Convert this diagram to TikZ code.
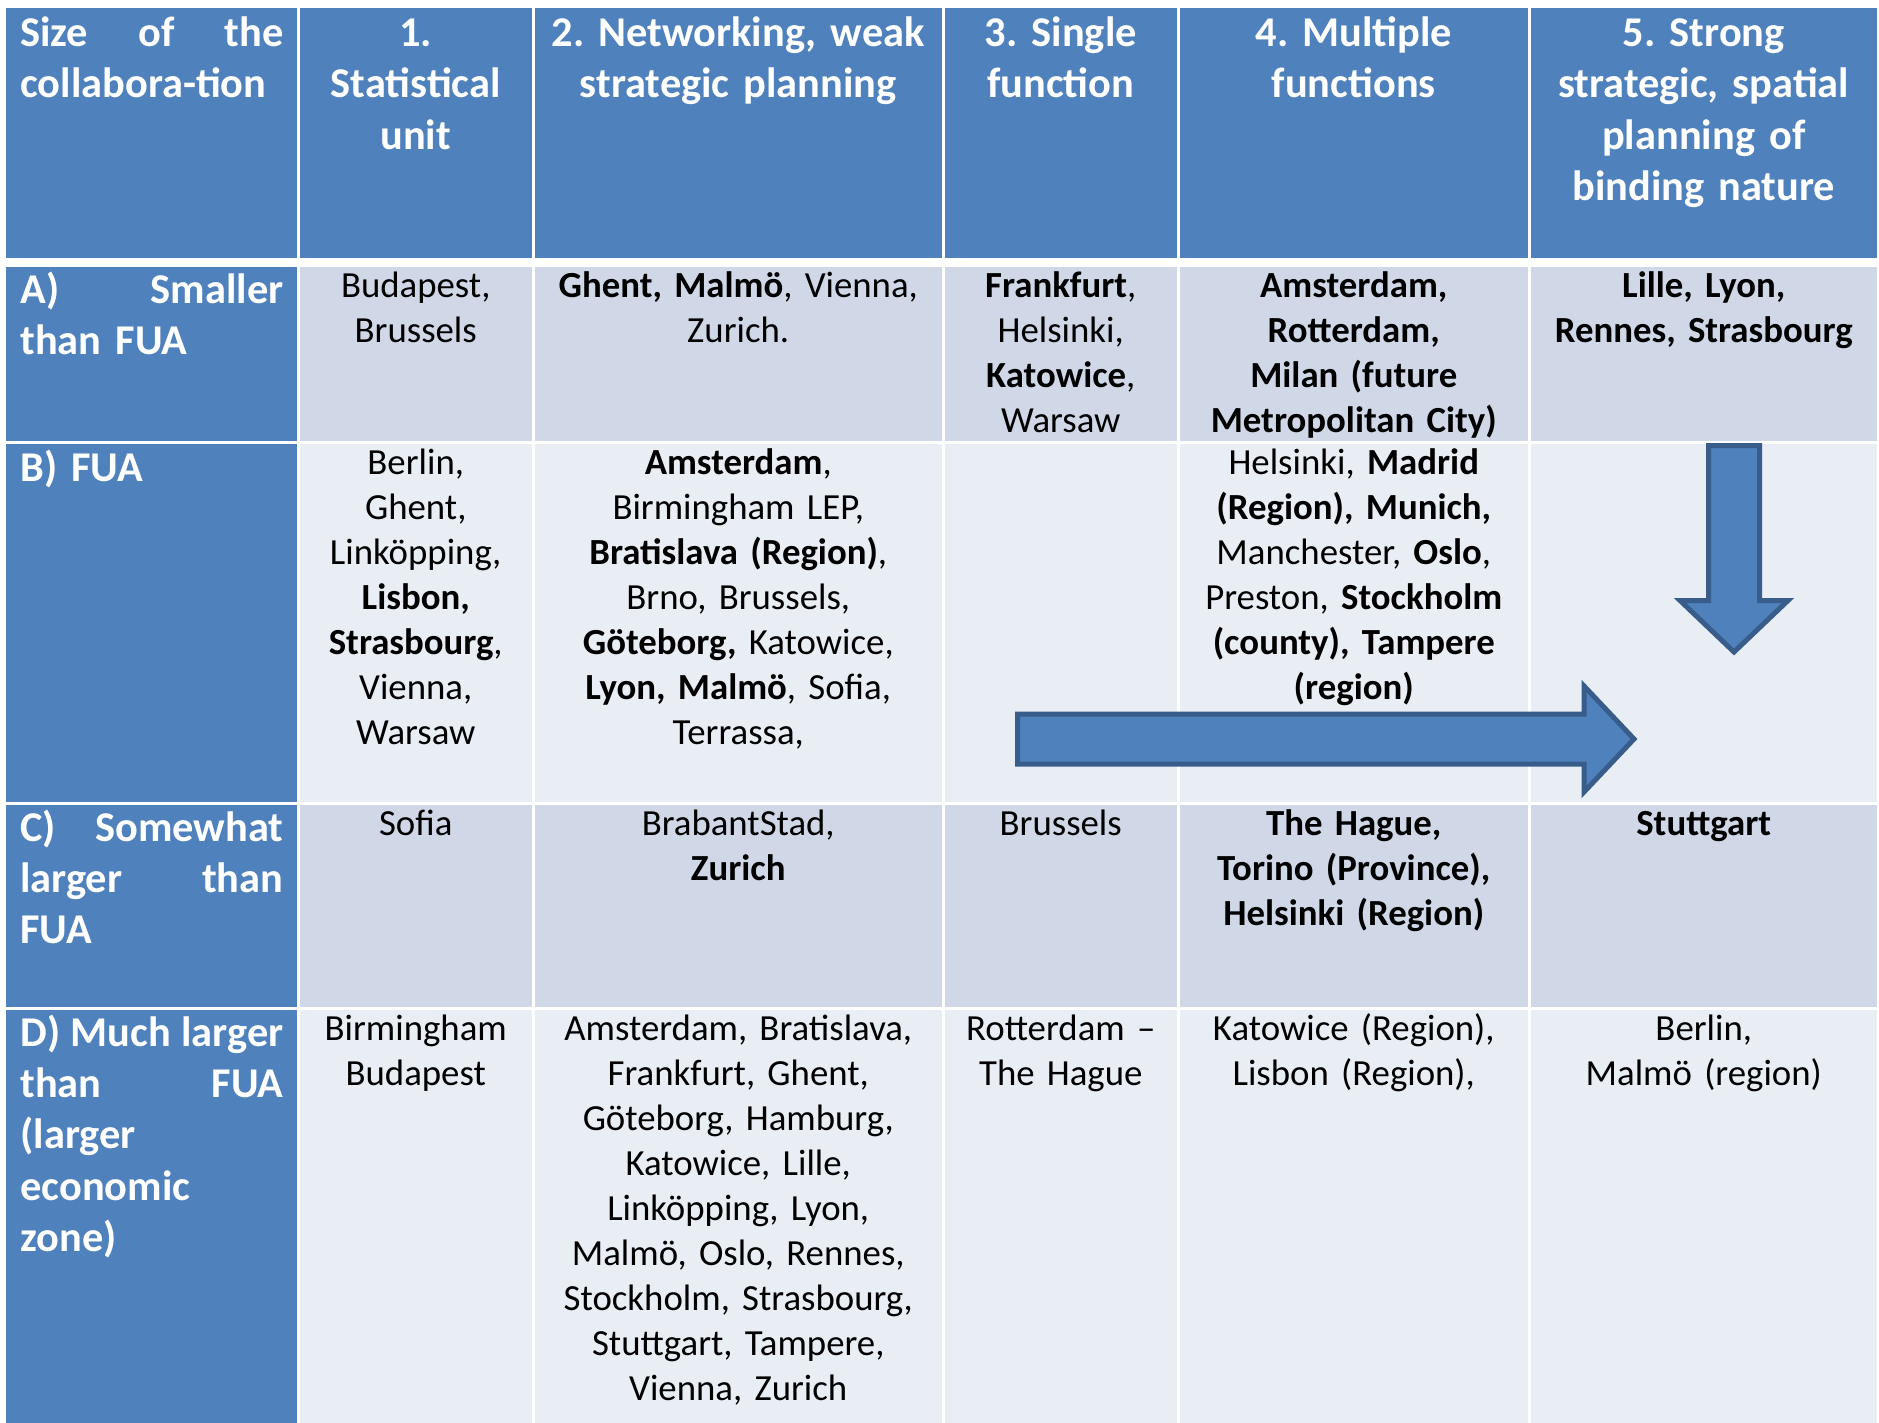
\documentclass[tikz,border=0pt]{standalone}
\usepackage{fontspec}
\setmainfont{Carlito}
\definecolor{hdr}{HTML}{4F81BD}
\definecolor{rowodd}{HTML}{D0D8E8}
\definecolor{roweven}{HTML}{E9EDF4}
\definecolor{arrline}{HTML}{385D8A}
\frenchspacing
\begin{document}
\begin{tikzpicture}[x=0.5pt,y=-0.5pt,
  txt/.style={anchor=base, inner sep=0pt, align=center, font=\fontsize{18.4pt}{22.5pt}\selectfont\frenchspacing},
  btxt/.style={txt, font=\fontsize{18.4pt}{22.5pt}\selectfont\frenchspacing\bfseries},
  hd/.style={txt, text=white, font=\fontsize{21.2pt}{25.7pt}\selectfont\frenchspacing\bfseries},
  lab/.style={hd, anchor=base west, align=left, text width=131.5pt},
  wa/.style={text width=110pt},
  wb/.style={text width=197pt},
  wc/.style={text width=167pt},
  arrowshape/.style={fill=hdr, draw=arrline, line width=2.5pt, line join=miter}
]
\useasboundingbox (0,0) rectangle (1879,1423);
\fill[white] (0,0) rectangle (1879,1423);
% first column
\fill[hdr] (6,8.3) rectangle (296.5,258.3);
\fill[hdr] (6,267.3) rectangle (296.5,440.7);
\fill[hdr] (6,444) rectangle (296.5,802);
\fill[hdr] (6,805) rectangle (296.5,1007);
\fill[hdr] (6,1010) rectangle (296.5,1423);
\foreach \xa/\xb in {299.5/532,535/941.5,944.5/1177,1180/1527.5,1530.5/1877} {
  \fill[hdr] (\xa,8.3) rectangle (\xb,258.3);
  \fill[rowodd] (\xa,267.3) rectangle (\xb,440.7);
  \fill[roweven] (\xa,444) rectangle (\xb,802);
  \fill[rowodd] (\xa,805) rectangle (\xb,1007);
  \fill[roweven] (\xa,1010) rectangle (\xb,1423);
}
% header
\node[lab] (h0) at (20,46.5) {Size\hfill of\hfill the\\collabora-tion};
\node[hd,wa] (h1) at (415.75,46.5) {1.\\Statistical\\unit};
\node[hd,wb] (h2) at (738.25,46.5) {2. Networking, weak\\strategic planning};
\node[hd,wa] (h3) at (1060.75,46.5) {3. Single\\function};
\node[hd,wc] (h4) at (1353.75,46.5) {4. Multiple\\functions};
\node[hd,wc] (h5) at (1703.75,46.5) {5. Strong\\strategic, spatial\\planning of\\binding nature};
% row A
\node[lab] (a0) at (20,303) {A)\hfill Smaller\\than FUA};
\node[txt,wa] (a1) at (415.75,297.5) {Budapest,\\Brussels};
\node[txt,wb] (a2) at (738.25,297.5) {\textbf{Ghent, Malmö}, Vienna,\\Zurich.};
\node[txt,wa] (a3) at (1060.75,297.5) {\textbf{Frankfurt},\\Helsinki,\\\textbf{Katowice},\\Warsaw};
\node[btxt,wc] (a4) at (1353.75,297.5) {Amsterdam,\\Rotterdam,\\Milan (future\\Metropolitan City)};
\node[btxt,wc] (a5) at (1703.75,297.5) {Lille, Lyon,\\Rennes, Strasbourg};
% row B
\node[lab] (b0) at (20,481) {B) FUA};
\node[txt,wa] (b1) at (415.75,474) {Berlin,\\Ghent,\\Linköpping,\\\textbf{Lisbon,}\\\textbf{Strasbourg},\\Vienna,\\Warsaw};
\node[txt,wb] (b2) at (738.25,474) {\textbf{Amsterdam},\\Birmingham LEP,\\\textbf{Bratislava (Region)},\\Brno, Brussels,\\\textbf{Göteborg,} Katowice,\\\textbf{Lyon, Malmö}, Sofia,\\Terrassa,};
\node[txt,wc] (b4) at (1353.75,474) {Helsinki, \textbf{Madrid}\\\textbf{(Region), Munich,}\\Manchester, \textbf{Oslo},\\Preston, \textbf{Stockholm}\\\textbf{(county), Tampere}\\\textbf{(region)}};
% row C
\node[lab] (c0) at (20,841) {C)\hfill Somewhat\\larger\hfill than\\FUA};
\node[txt,wa] (c1) at (415.75,835) {Sofia};
\node[txt,wb] (c2) at (738.25,835) {BrabantStad,\\\textbf{Zurich}};
\node[txt,wa] (c3) at (1060.75,835) {Brussels};
\node[btxt,wc] (c4) at (1353.75,835) {The Hague,\\Torino (Province),\\Helsinki (Region)};
\node[btxt,wc] (c5) at (1703.75,835) {Stuttgart};
% row D
\node[lab] (d0) at (20,1046) {D)\hfill Much\hfill larger\\than\hfill FUA\\(larger\\economic\\zone)};
\node[txt,wa] (d1) at (415.75,1040) {Birmingham\\Budapest};
\node[txt,wb] (d2) at (738.25,1040) {Amsterdam, Bratislava,\\Frankfurt, Ghent,\\Göteborg, Hamburg,\\Katowice, Lille,\\Linköpping, Lyon,\\Malmö, Oslo, Rennes,\\Stockholm, Strasbourg,\\Stuttgart, Tampere,\\Vienna, Zurich};
\node[txt,wa] (d3) at (1060.75,1040) {Rotterdam –\\The Hague};
\node[txt,wc] (d4) at (1353.75,1040) {Katowice (Region),\\Lisbon (Region),};
\node[txt,wc] (d5) at (1703.75,1040) {Berlin,\\Malmö (region)};
% arrows
\draw[arrowshape] (1017.5,714) -- (1584,714) -- (1584,686) -- (1634,739) -- (1584,792) -- (1584,764) -- (1017.5,764) -- cycle;
\draw[arrowshape] (1708.5,445.5) -- (1759.5,445.5) -- (1759.5,600.5) -- (1788,600.5) -- (1734,652) -- (1680,600.5) -- (1708.5,600.5) -- cycle;
\end{tikzpicture}
\end{document}
